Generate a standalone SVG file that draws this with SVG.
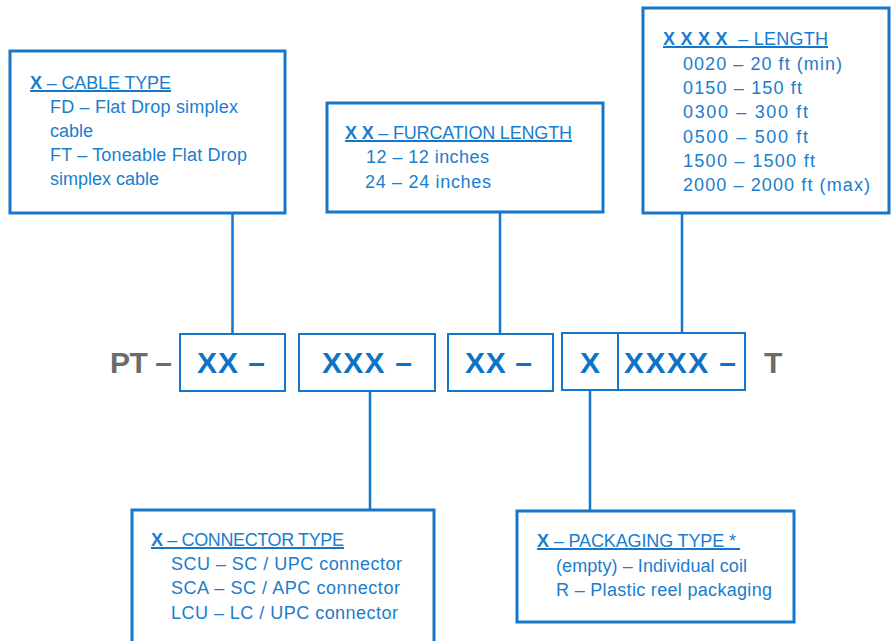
<svg xmlns="http://www.w3.org/2000/svg" width="891" height="641" viewBox="0 0 891 641">
<style>
.box{fill:#fff;stroke:#1477c9;stroke-width:3}
.mbox{fill:#fff;stroke:#1477c9;stroke-width:2}
.ln{stroke:#1477c9;stroke-width:2.5;fill:none}
.ul{stroke:#1477c9;stroke-width:1.8}
.t{font-family:"Liberation Sans",Arial,sans-serif;font-size:18px;fill:#1a7dce}
.b{font-weight:bold}
.big{font-family:"Liberation Sans",Arial,sans-serif;font-size:30px;font-weight:bold;fill:#0b74c8}
.gray{font-family:"Liberation Sans",Arial,sans-serif;font-size:30px;font-weight:bold;fill:#6b6b6b}
</style>
<rect width="891" height="641" fill="#fff"/>
<g id="connectors">
<line class="ln" x1="232.5" y1="213" x2="232.5" y2="334"/>
<line class="ln" x1="500" y1="212" x2="500" y2="334"/>
<line class="ln" x1="682" y1="213" x2="682" y2="333"/>
<line class="ln" x1="370" y1="391" x2="370" y2="510"/>
<line class="ln" x1="590" y1="390" x2="590" y2="511"/>
</g>
<g id="cable-type">
<rect class="box" x="10" y="51" width="275" height="162"/>
<text class="t" x="30" y="89" textLength="141"><tspan class="b">X</tspan> – CABLE TYPE</text>
<line class="ul" x1="30" y1="91" x2="171" y2="91"/>
<text class="t" x="50" y="113" textLength="188">FD – Flat Drop simplex</text>
<text class="t" x="50" y="137" textLength="43">cable</text>
<text class="t" x="50" y="161" textLength="197">FT – Toneable Flat Drop</text>
<text class="t" x="50" y="185" textLength="109">simplex cable</text>
</g>
<g id="furcation-length">
<rect class="box" x="327" y="103" width="276" height="109"/>
<text class="t" x="345" y="139" textLength="227"><tspan class="b">X X</tspan> – FURCATION LENGTH</text>
<line class="ul" x1="345" y1="141" x2="572" y2="141"/>
<text class="t" x="366" y="163" textLength="123">12 – 12 inches</text>
<text class="t" x="365" y="188" textLength="126">24 – 24 inches</text>
</g>
<g id="length">
<rect class="box" x="643" y="8" width="246" height="205"/>
<text class="t" x="663" y="45" textLength="165" xml:space="preserve"><tspan class="b">X X X X</tspan>  – LENGTH</text>
<line class="ul" x1="663" y1="47" x2="828" y2="47"/>
<text class="t" x="683" y="70" textLength="159">0020 – 20 ft (min)</text>
<text class="t" x="683" y="94" textLength="119">0150 – 150 ft</text>
<text class="t" x="683" y="118" textLength="125">0300 – 300 ft</text>
<text class="t" x="683" y="143" textLength="125">0500 – 500 ft</text>
<text class="t" x="683" y="167" textLength="132">1500 – 1500 ft</text>
<text class="t" x="683" y="191" textLength="187">2000 – 2000 ft (max)</text>
</g>
<g id="part-number">
<text class="gray" x="110" y="373" textLength="62">PT –</text>
<rect class="mbox" x="180" y="334" width="105" height="57"/>
<text class="big" x="197" y="373" textLength="68">XX –</text>
<rect class="mbox" x="299" y="334" width="136" height="57"/>
<text class="big" x="322" y="373" textLength="90">XXX –</text>
<rect class="mbox" x="448" y="334" width="105" height="57"/>
<text class="big" x="465" y="373" textLength="67">XX –</text>
<rect class="mbox" x="562" y="333" width="183" height="57"/>
<line class="mbox" x1="618" y1="333" x2="618" y2="390"/>
<text class="big" x="580" y="373">X</text>
<text class="big" x="624" y="373" textLength="112">XXXX –</text>
<text class="gray" x="764" y="373">T</text>
</g>
<g id="connector-type">
<rect class="box" x="132" y="510" width="302" height="150"/>
<text class="t" x="151" y="546" textLength="193"><tspan class="b">X</tspan> – CONNECTOR TYPE</text>
<line class="ul" x1="151" y1="548" x2="344" y2="548"/>
<text class="t" x="171" y="570" textLength="231">SCU – SC / UPC connector</text>
<text class="t" x="171" y="594" textLength="229">SCA – SC / APC connector</text>
<text class="t" x="171" y="619" textLength="227">LCU – LC / UPC connector</text>
</g>
<g id="packaging-type">
<rect class="box" x="517" y="511" width="277" height="111"/>
<text class="t" x="537" y="547" textLength="199"><tspan class="b">X</tspan> – PACKAGING TYPE *</text>
<line class="ul" x1="537" y1="549" x2="740" y2="549"/>
<text class="t" x="556" y="572" textLength="191">(empty) – Individual coil</text>
<text class="t" x="556" y="596" textLength="216">R – Plastic reel packaging</text>
</g>
</svg>
